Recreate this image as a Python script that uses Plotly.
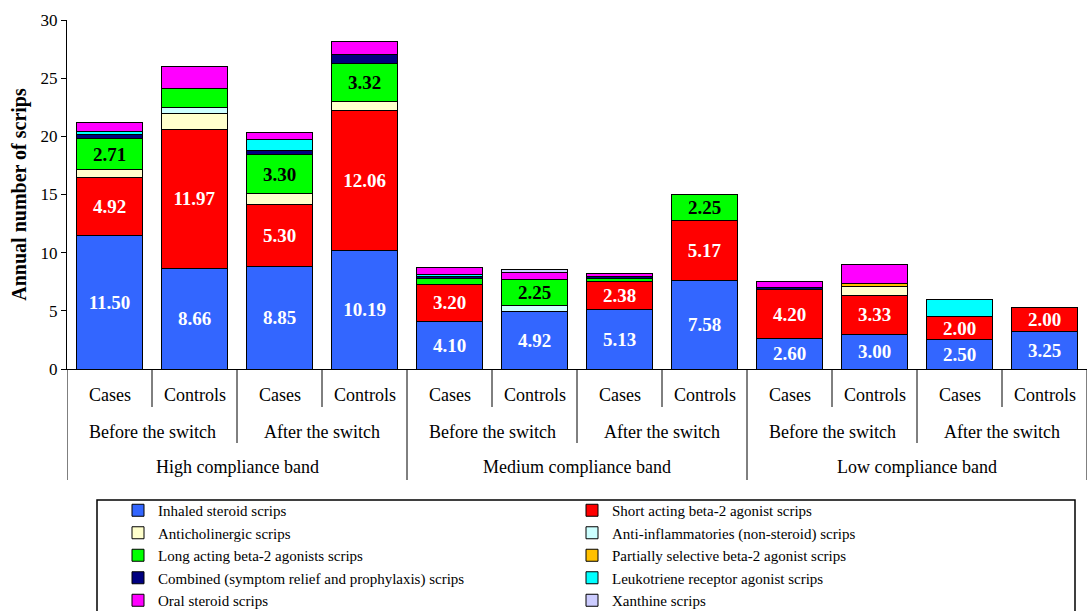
import plotly.graph_objects as go

# ---------------- data ----------------
level1 = ["Cases", "Controls"] * 6
level2 = ["Before the switch", "After the switch"] * 3
level3 = ["High compliance band", "Medium compliance band", "Low compliance band"]

inhaled = [11.50, 8.66, 8.85, 10.19, 4.10, 4.92, 5.13, 7.58, 2.60, 3.00, 2.50, 3.25]
short_acting = [4.92, 11.97, 5.30, 12.06, 3.20, 0, 2.38, 5.17, 4.20, 3.33, 2.00, 2.00]
anticholinergic = [0.70, 1.37, 0.95, 0.73, 0, 0, 0, 0, 0, 0.80, 0, 0]
anti_inflammatory = [0, 0.45, 0, 0, 0, 0.50, 0, 0, 0, 0, 0, 0]
long_acting = [2.71, 1.65, 3.30, 3.32, 0.50, 2.25, 0.30, 2.25, 0, 0, 0, 0]
partially_selective = [0, 0, 0, 0, 0, 0, 0, 0, 0, 0.25, 0, 0]
combined = [0.30, 0, 0.40, 0.77, 0.12, 0, 0.15, 0, 0.20, 0, 0, 0]
leukotriene = [0.30, 0, 0.95, 0, 0.18, 0, 0, 0, 0, 0, 1.50, 0]
oral_steroid = [0.80, 1.90, 0.60, 1.10, 0.60, 0.66, 0.25, 0, 0.55, 1.60, 0, 0]
xanthine = [0, 0, 0, 0, 0, 0.25, 0, 0, 0, 0, 0, 0]

series = [
    ("Inhaled steroid scrips", inhaled, "#3366FF", True, "white"),
    ("Short acting beta-2 agonist scrips", short_acting, "#FF0000", True, "white"),
    ("Anticholinergic scrips", anticholinergic, "#FFFFCC", False, "black"),
    ("Anti-inflammatories (non-steroid) scrips", anti_inflammatory, "#CCFFFF", False, "black"),
    ("Long acting beta-2 agonists scrips", long_acting, "#00FF00", True, "black"),
    ("Partially selective beta-2 agonist scrips", partially_selective, "#FFC000", False, "black"),
    ("Combined (symptom relief and prophylaxis) scrips", combined, "#000080", False, "black"),
    ("Leukotriene receptor agonist scrips", leukotriene, "#00FFFF", False, "black"),
    ("Oral steroid scrips", oral_steroid, "#FF00FF", False, "black"),
    ("Xanthine scrips", xanthine, "#CCCCFF", False, "black"),
]

FONT = "Liberation Serif"
W, H = 1087, 611
ML, MR, MT, MB = 67, 0, 20, 242
PH = H - MT - MB


def py(pixel_y):
    return (H - MB - pixel_y) / PH


def px(pixel_x):
    return (pixel_x - ML) / (W - ML - MR)


xs = list(range(len(level1)))

fig = go.Figure()
for name, vals, color, labelled, tcolor in series:
    texts = [f"{v:.2f}" if (labelled and v >= 2) else "" for v in vals]
    fig.add_trace(go.Bar(
        x=xs, y=[v if v > 0 else None for v in vals], name=name,
        marker=dict(color=color, line=dict(color="black", width=1)),
        text=texts, textposition="inside", insidetextanchor="middle",
        textangle=0, constraintext="none",
        textfont=dict(family=FONT, size=19, color=tcolor, weight="bold"),
        hoverinfo="name+y",
    ))

annotations = []
shapes = []
lab_font = dict(family=FONT, size=18, color="black")
for i, lab in enumerate(level1):
    annotations.append(dict(x=i, y=py(395), xref="x", yref="paper", text=lab,
                            xanchor="center", yanchor="middle",
                            showarrow=False, font=lab_font))
for j, lab in enumerate(level2):
    annotations.append(dict(x=2 * j + 0.5, y=py(432), xref="x", yref="paper", text=lab,
                            xanchor="center", yanchor="middle",
                            showarrow=False, font=lab_font))
for k, lab in enumerate(level3):
    annotations.append(dict(x=4 * k + 1.5, y=py(467), xref="x", yref="paper", text=lab,
                            xanchor="center", yanchor="middle",
                            showarrow=False, font=lab_font))

# separators
n = len(level1)
for b in range(n + 1):
    xb = b - 0.5
    if b % 4 == 0:
        bottom = 480
    elif b % 2 == 0:
        bottom = 443
    else:
        bottom = 407
    shapes.append(dict(type="line", xref="x", yref="paper", x0=xb, x1=xb,
                       y0=0, y1=py(bottom), line=dict(color="black", width=1)))

# legend box
shapes.append(dict(type="rect", xref="paper", yref="paper", x0=px(97), x1=px(1075),
                   y0=py(500), y1=py(640), line=dict(color="black", width=1.5),
                   fillcolor="rgba(0,0,0,0)"))

fig.update_layout(
    width=W, height=H,
    barmode="stack", bargap=0.22,
    paper_bgcolor="white", plot_bgcolor="white",
    margin=dict(l=ML, r=MR, t=MT, b=MB, pad=0, autoexpand=False),
    font=dict(family=FONT, size=17, color="black"),
    xaxis=dict(range=[-0.5, n - 0.5], showticklabels=False, ticks="",
               showline=True, linecolor="black", linewidth=1, showgrid=False,
               zeroline=False),
    yaxis=dict(range=[0, 30], dtick=5, ticks="outside", ticklen=5, tickcolor="black",
               showline=True, linecolor="black", linewidth=1, showgrid=False,
               zeroline=False, tickfont=dict(family=FONT, size=17),
               title=dict(text="Annual number of scrips",
                          font=dict(family=FONT, size=20, weight="bold"), standoff=8)),
    legend=dict(orientation="h", x=px(118), xanchor="left", y=py(494), yanchor="top",
                entrywidth=409, entrywidthmode="pixels", traceorder="normal",
                font=dict(family=FONT, size=15), bgcolor="rgba(0,0,0,0)",
                borderwidth=0, tracegroupgap=0),
    annotations=annotations, shapes=shapes,
)

fig.write_html("out.html", config={"displayModeBar": False},
               post_script="document.body.style.margin='0';")
